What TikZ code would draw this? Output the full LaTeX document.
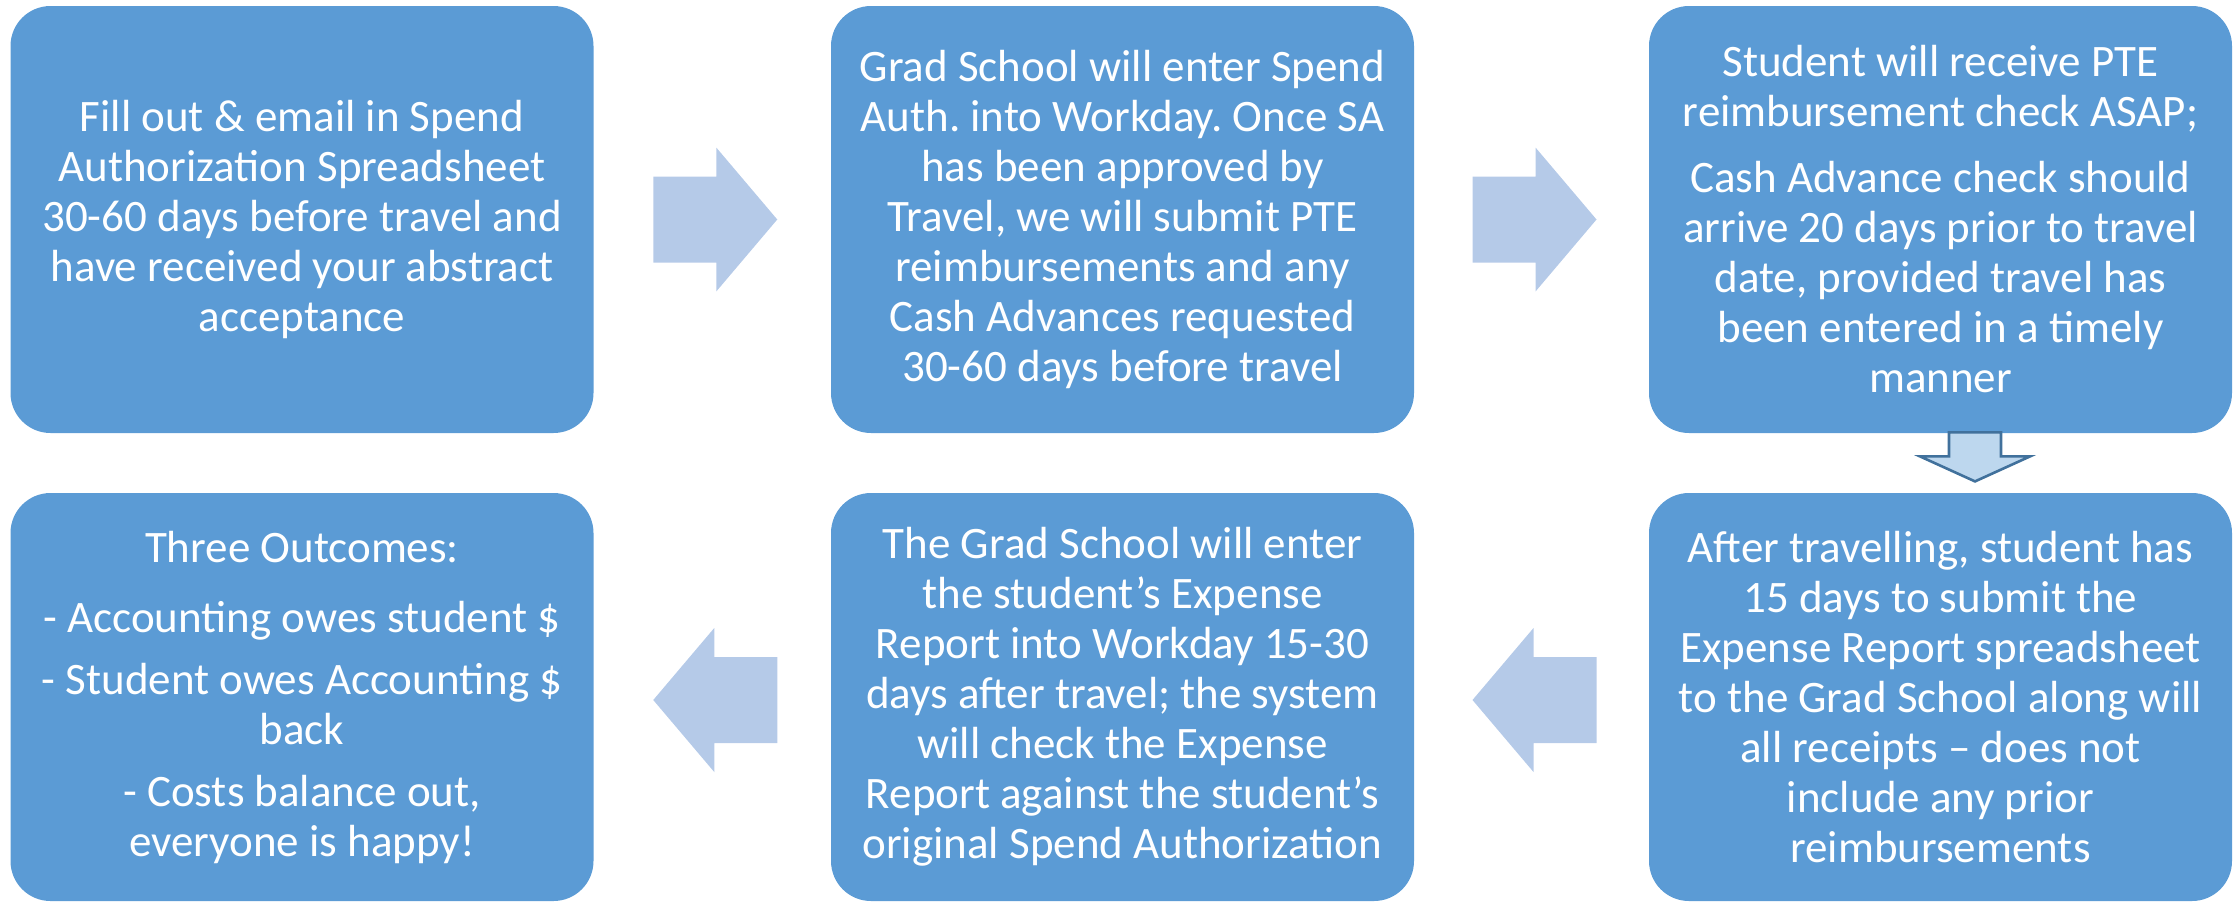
\documentclass[tikz,border=0pt]{standalone}
\usepackage{fontspec}
\setmainfont{Carlito}
\frenchspacing
\usetikzlibrary{calc}
\definecolor{boxblue}{HTML}{5B9BD5}
\definecolor{arrowblue}{HTML}{B5CAE8}
\definecolor{downfill}{HTML}{BDD7EE}
\definecolor{downline}{HTML}{41719C}
\begin{document}
\begin{tikzpicture}[x=0.5pt,y=-0.5pt,
  stepbox/.style={fill=boxblue, draw=none, rounded corners=20pt, text=white,
    align=center, inner sep=0pt, minimum width=291.5pt,
    font=\fontsize{22.5}{25}\selectfont},
  toprow/.style={stepbox, minimum height=213.5pt},
  botrow/.style={stepbox, minimum height=204pt},
  flowarrow/.style={fill=arrowblue, draw=none},
  downarrow/.style={fill=downfill, draw=downline, line width=1.3pt, line join=miter}]
\useasboundingbox (0,0) rectangle (2239,901);

% first row, left to right
\node[toprow] (b1) at (302,219.5) {Fill out \& email in Spend\\Authorization Spreadsheet\\30-60 days before travel and\\have received your abstract\\acceptance};
\node[toprow] (b2) at (1122.5,219.5) {Grad School will enter Spend\\Auth. into Workday. Once SA\\has been approved by\\Travel, we will submit PTE\\reimbursements and any\\Cash Advances requested\\30-60 days before travel};
\node[toprow] (b3) at (1940.5,219.5) {Student will receive PTE\\reimbursement check ASAP;\\[8pt]Cash Advance check should\\arrive 20 days prior to travel\\date, provided travel has\\been entered in a timely\\manner};

% second row, right to left
\node[botrow] (b6) at (1940.5,697) {After travelling, student has\\15 days to submit the\\Expense Report spreadsheet\\to the Grad School along will\\all receipts – does not\\include any prior\\reimbursements};
\node[botrow] (b5) at (1122.5,697) {The Grad School will enter\\the student’s Expense\\Report into Workday 15-30\\days after travel; the system\\will check the Expense\\Report against the student’s\\original Spend Authorization};
\node[botrow] (b4) at (302,697) {Three Outcomes:\\[10pt]- Accounting owes student \$\\[6pt]- Student owes Accounting \$\\back\\[6pt]- Costs balance out,\\everyone is happy!};

% block arrows between the steps
\coordinate (a12) at ($(b1.east)!0.5!(b2.west)+(3,0)$);
\coordinate (a23) at ($(b2.east)!0.5!(b3.west)+(3,0)$);
\coordinate (a65) at ($(b6.west)!0.5!(b5.east)+(3,3)$);
\coordinate (a54) at ($(b5.west)!0.5!(b4.east)+(3,3)$);
\coordinate (a36) at ($(b3.south)+(34.5,0)$);

\foreach \c in {a12,a23}
  \fill[flowarrow] ($(\c)+(-62,-43)$) -- ($(\c)+(1,-43)$) -- ($(\c)+(1,-72)$)
    -- ($(\c)+(62,0)$) -- ($(\c)+(1,72)$) -- ($(\c)+(1,43)$) -- ($(\c)+(-62,43)$) -- cycle;
\foreach \c in {a65,a54}
  \fill[flowarrow] ($(\c)+(62,-43)$) -- ($(\c)+(-1,-43)$) -- ($(\c)+(-1,-72)$)
    -- ($(\c)+(-62,0)$) -- ($(\c)+(-1,72)$) -- ($(\c)+(-1,43)$) -- ($(\c)+(62,43)$) -- cycle;

\draw[downarrow] ($(a36)+(-26,-1)$) -- ($(a36)+(26,-1)$) -- ($(a36)+(26,23)$)
  -- ($(a36)+(55,23)$) -- ($(a36)+(0,48)$) -- ($(a36)+(-55,23)$)
  -- ($(a36)+(-26,23)$) -- cycle;
\end{tikzpicture}
\end{document}
